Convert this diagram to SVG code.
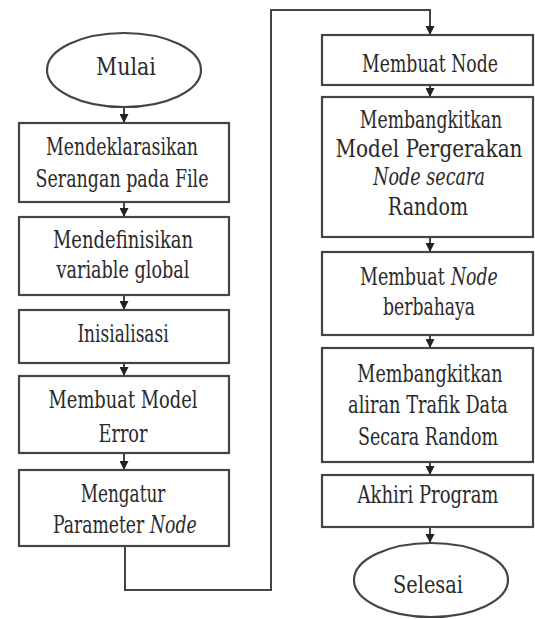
<svg xmlns="http://www.w3.org/2000/svg" width="535" height="619" viewBox="0 0 535 619">
<style>
.b{fill:#fff;stroke:#444;stroke-width:2.2}
.c{fill:none;stroke:#444;stroke-width:2}
.t text{font-family:"DejaVu Serif","Liberation Serif","Noto Serif",serif;font-size:24px;fill:#2a2a2a;text-anchor:middle}
.t .i{font-style:italic}
.t .s{text-anchor:start}
</style>
<defs>
<marker id="a" viewBox="0 0 10 10" refX="10" refY="5" markerWidth="9" markerHeight="9" markerUnits="userSpaceOnUse" orient="auto">
<path d="M0,0 L10,5 L0,10 z" fill="#222"/>
</marker>
</defs>
<rect width="535" height="619" fill="#fff"/>
<g id="connectors">
<line class="c" x1="124" y1="107" x2="124" y2="123" marker-end="url(#a)"/>
<line class="c" x1="124" y1="202" x2="124" y2="217" marker-end="url(#a)"/>
<line class="c" x1="124" y1="295" x2="124" y2="310" marker-end="url(#a)"/>
<line class="c" x1="124" y1="363" x2="124" y2="376" marker-end="url(#a)"/>
<line class="c" x1="124" y1="453" x2="124" y2="470" marker-end="url(#a)"/>
<path class="c" d="M125,546 V590 H271 V10 H430 V35" marker-end="url(#a)"/>
<line class="c" x1="430" y1="85" x2="430" y2="97" marker-end="url(#a)"/>
<line class="c" x1="430" y1="237" x2="430" y2="252" marker-end="url(#a)"/>
<line class="c" x1="430" y1="335" x2="430" y2="348" marker-end="url(#a)"/>
<line class="c" x1="430" y1="462" x2="430" y2="475" marker-end="url(#a)"/>
<line class="c" x1="430" y1="527" x2="430" y2="543" marker-end="url(#a)"/>
</g>
<g class="t">
<g id="mulai">
<ellipse class="b" cx="124" cy="70" rx="77" ry="37"/>
<text transform="translate(126,75) scale(0.73,1)" textLength="82" lengthAdjust="spacingAndGlyphs">Mulai</text>
</g>
<g id="deklarasi">
<rect class="b" x="19" y="123" width="210" height="79"/>
<text transform="translate(122,155) scale(0.73,1)" textLength="208" lengthAdjust="spacingAndGlyphs">Mendeklarasikan</text>
<text transform="translate(122,187) scale(0.73,1)" textLength="237" lengthAdjust="spacingAndGlyphs">Serangan pada File</text>
</g>
<g id="definisi">
<rect class="b" x="19" y="217" width="210" height="78"/>
<text transform="translate(123,248) scale(0.73,1)" textLength="192" lengthAdjust="spacingAndGlyphs">Mendefinisikan</text>
<text transform="translate(123,278) scale(0.73,1)" textLength="182" lengthAdjust="spacingAndGlyphs">variable global</text>
</g>
<g id="inisialisasi">
<rect class="b" x="19" y="310" width="210" height="53"/>
<text transform="translate(123,342) scale(0.73,1)" textLength="125" lengthAdjust="spacingAndGlyphs">Inisialisasi</text>
</g>
<g id="model-error">
<rect class="b" x="19" y="376" width="210" height="77"/>
<text transform="translate(123,408) scale(0.73,1)" textLength="204" lengthAdjust="spacingAndGlyphs">Membuat Model</text>
<text transform="translate(123,442) scale(0.73,1)" textLength="67" lengthAdjust="spacingAndGlyphs">Error</text>
</g>
<g id="parameter">
<rect class="b" x="19" y="470" width="210" height="76"/>
<text transform="translate(123,502) scale(0.73,1)" textLength="116" lengthAdjust="spacingAndGlyphs">Mengatur</text>
<text class="s" transform="translate(53,533) scale(0.73,1)" textLength="125" lengthAdjust="spacingAndGlyphs">Parameter</text>
<text class="s i" transform="translate(150,533) scale(0.73,1)" textLength="64" lengthAdjust="spacingAndGlyphs">Node</text>
</g>
<g id="membuat-node">
<rect class="b" x="322" y="35" width="211" height="50"/>
<text transform="translate(430,72) scale(0.73,1)" textLength="186" lengthAdjust="spacingAndGlyphs">Membuat Node</text>
</g>
<g id="pergerakan">
<rect class="b" x="322" y="97" width="211" height="140"/>
<text transform="translate(431,128) scale(0.73,1)" textLength="195" lengthAdjust="spacingAndGlyphs">Membangkitkan</text>
<text transform="translate(429,157) scale(0.73,1)" textLength="256" lengthAdjust="spacingAndGlyphs">Model Pergerakan</text>
<text class="i" transform="translate(429,185) scale(0.73,1)" textLength="153" lengthAdjust="spacingAndGlyphs">Node secara</text>
<text transform="translate(428,215) scale(0.73,1)" textLength="110" lengthAdjust="spacingAndGlyphs">Random</text>
</g>
<g id="berbahaya">
<rect class="b" x="322" y="252" width="211" height="83"/>
<text class="s" transform="translate(360,285) scale(0.73,1)" textLength="116" lengthAdjust="spacingAndGlyphs">Membuat</text>
<text class="s i" transform="translate(451,285) scale(0.73,1)" textLength="64" lengthAdjust="spacingAndGlyphs">Node</text>
<text transform="translate(429,315) scale(0.73,1)" textLength="126" lengthAdjust="spacingAndGlyphs">berbahaya</text>
</g>
<g id="trafik">
<rect class="b" x="322" y="348" width="211" height="114"/>
<text transform="translate(430,382) scale(0.73,1)" textLength="199" lengthAdjust="spacingAndGlyphs">Membangkitkan</text>
<text transform="translate(428,413) scale(0.73,1)" textLength="219" lengthAdjust="spacingAndGlyphs">aliran Trafik Data</text>
<text transform="translate(428,445) scale(0.73,1)" textLength="192" lengthAdjust="spacingAndGlyphs">Secara Random</text>
</g>
<g id="akhiri">
<rect class="b" x="322" y="475" width="211" height="52"/>
<text transform="translate(428,503) scale(0.73,1)" textLength="193" lengthAdjust="spacingAndGlyphs">Akhiri Program</text>
</g>
<g id="selesai">
<ellipse class="b" cx="431" cy="580" rx="77" ry="37"/>
<text transform="translate(428,593) scale(0.73,1)" textLength="96" lengthAdjust="spacingAndGlyphs">Selesai</text>
</g>
</g>
</svg>
